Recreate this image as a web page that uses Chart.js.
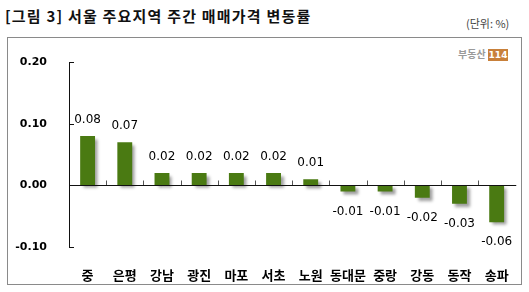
<!DOCTYPE html>
<html>
<head>
<meta charset="utf-8">
<script src="https://cdn.jsdelivr.net/npm/chart.js@4"></script>
<style>
  html, body { margin:0; padding:0; background:#fff; }
  #wrap { position:relative; width:529px; height:292px; overflow:hidden; }
  #title { position:absolute; left:5px; top:5px; font:bold 15px "Noto Sans CJK KR", sans-serif; color:#111; white-space:nowrap; letter-spacing:1.2px; }
  #unit { position:absolute; left:466px; top:15px; font:11px "Noto Sans CJK KR", sans-serif; color:#444; white-space:nowrap; }
  #box { position:absolute; left:7px; top:37px; width:513px; height:246px; border:1px solid #8a8a8a; }
  #logo { position:absolute; left:458px; top:46px; font:bold 10px "Noto Sans CJK KR", sans-serif; color:#9a9a9a; white-space:nowrap; }
  #logo span { display:inline-block; background:#c8803a; color:#fff; font:bold 9px "DejaVu Sans", sans-serif; padding:1px 1px; margin-left:2px; vertical-align:middle; }
  canvas { position:absolute; left:0; top:0; }
</style>
</head>
<body>
<div id="wrap">
  <div id="title">[그림 3] 서울 주요지역 주간 매매가격 변동률</div>
  <div id="unit">(단위: %)</div>
  <div id="box"></div>
  <div id="logo">부동산<span>114</span></div>
  <canvas id="c" width="529" height="292"></canvas>
</div>
<script>
const categories = ['중','은평','강남','광진','마포','서초','노원','동대문','중랑','강동','동작','송파'];
const values = [0.08, 0.07, 0.02, 0.02, 0.02, 0.02, 0.01, -0.01, -0.01, -0.02, -0.03, -0.06];
const yTickValues = [0.20, 0.10, 0.00, -0.10];

const decor = {
  id: 'decor',
  beforeDatasetsDraw(chart) {
    const ctx = chart.ctx;
    const x = chart.scales.x, y = chart.scales.y;
    const area = chart.chartArea;
    ctx.save();
    ctx.strokeStyle = '#111';
    ctx.lineWidth = 1;
    ctx.beginPath();
    ctx.moveTo(area.left + 0.5, y.getPixelForValue(0.2));
    ctx.lineTo(area.left + 0.5, y.getPixelForValue(-0.1));
    ctx.stroke();
    yTickValues.forEach(v => {
      const py = Math.round(y.getPixelForValue(v)) + 0.5;
      ctx.beginPath();
      ctx.moveTo(area.left, py);
      ctx.lineTo(area.left + 5, py);
      ctx.stroke();
    });
    const zy = Math.round(y.getPixelForValue(0)) + 0.5;
    ctx.strokeStyle = '#555';
    for (let i = 1; i < categories.length; i++) {
      const px = Math.round((x.getPixelForValue(i - 1) + x.getPixelForValue(i)) / 2) + 0.5;
      ctx.beginPath();
      ctx.moveTo(px, zy - 5);
      ctx.lineTo(px, zy);
      ctx.stroke();
    }
    ctx.restore();
    ctx.save();
    ctx.shadowColor = 'rgba(0,0,0,0.38)';
    ctx.shadowOffsetX = 3;
    ctx.shadowOffsetY = 3;
    ctx.shadowBlur = 3;
  },
  afterDatasetsDraw(chart) {
    const ctx = chart.ctx;
    ctx.restore();
    const y = chart.scales.y;
    const area = chart.chartArea;
    ctx.save();
    const zy = Math.round(y.getPixelForValue(0)) + 0.5;
    ctx.strokeStyle = '#111';
    ctx.lineWidth = 1;
    ctx.beginPath();
    ctx.moveTo(area.left, zy);
    ctx.lineTo(area.right + 1, zy);
    ctx.stroke();
    ctx.fillStyle = '#000';
    ctx.font = '12px "DejaVu Sans", sans-serif';
    ctx.textAlign = 'center';
    ctx.textBaseline = 'middle';
    const meta = chart.getDatasetMeta(0);
    meta.data.forEach((bar, i) => {
      const v = values[i];
      const py = v >= 0 ? bar.y - 16 : bar.y + 20;
      ctx.fillText(v.toFixed(2), bar.x, py);
    });
    ctx.restore();
  }
};

new Chart(document.getElementById('c'), {
  type: 'bar',
  data: {
    labels: categories,
    datasets: [{
      data: values,
      backgroundColor: '#4a7a12',
      borderWidth: 0,
      barPercentage: 0.4,
      categoryPercentage: 1.0
    }]
  },
  options: {
    responsive: false,
    animation: false,
    events: [],
    layout: { padding: { top: 62, right: 9, bottom: 0, left: 0 } },
    plugins: { legend: { display: false }, tooltip: { enabled: false }, title: { display: false } },
    scales: {
      x: {
        grid: { display: false, drawTicks: false },
        border: { display: false },
        ticks: {
          autoSkip: false, maxRotation: 0, minRotation: 0, padding: 20,
          color: '#000',
          font: { family: '"Noto Sans CJK KR", sans-serif', size: 13, weight: 'bold' }
        },
        afterFit(s) { s.height = 45; }
      },
      y: {
        min: -0.1, max: 0.2,
        grid: { display: false, drawTicks: false },
        border: { display: false },
        ticks: {
          stepSize: 0.1, padding: 22, color: '#000',
          font: { family: '"DejaVu Sans", sans-serif', size: 11, weight: 'bold' },
          callback: v => Number(v).toFixed(2)
        },
        afterFit(s) { s.width = 69; }
      }
    }
  },
  plugins: [decor]
});
</script>
</body>
</html>
